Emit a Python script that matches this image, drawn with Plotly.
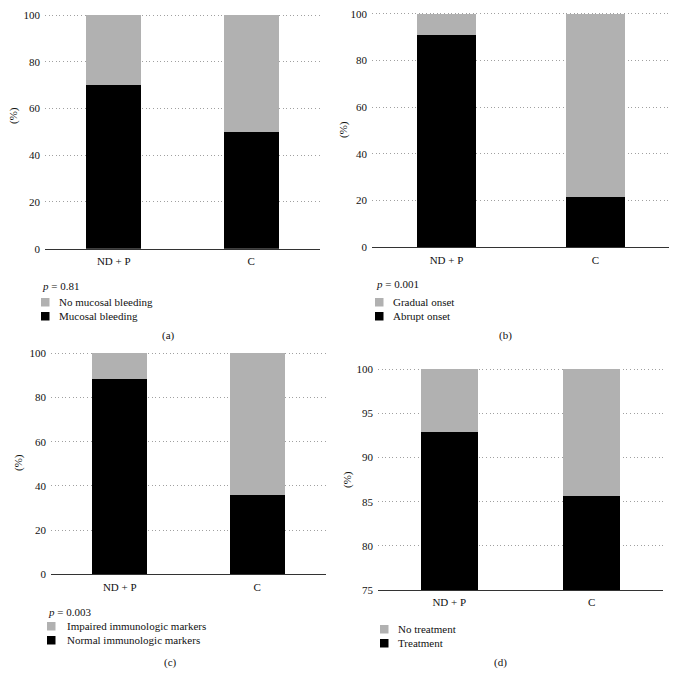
import plotly.graph_objects as go

# The page body has an 8px margin, so the figure is sized and positioned to compensate.
OFF = 8
W, H = 677 - OFF, 683 - OFF
TOP_SHIFT = 3  # nudge the top row down so the "100" labels are not clipped by the page margin

groups = ["ND + P", "C"]

# (a)
a_black_name, a_gray_name = "Mucosal bleeding", "No mucosal bleeding"
a_black = [70.0, 50.0]
a_gray = [30.0, 50.0]
a_p = "= 0.81"

# (b)
b_black_name, b_gray_name = "Abrupt onset", "Gradual onset"
b_black = [90.9, 21.4]
b_gray = [9.1, 78.6]
b_p = "= 0.001"

# (c)
c_black_name, c_gray_name = "Normal immunologic markers", "Impaired immunologic markers"
c_black = [88.2, 35.7]
c_gray = [11.8, 64.3]
c_p = "= 0.003"

# (d)
d_black_name, d_gray_name = "Treatment", "No treatment"
d_black = [92.9, 85.7]
d_gray = [7.1, 14.3]

a_ticks = [0, 20, 40, 60, 80, 100]
d_ticks = [75, 80, 85, 90, 95, 100]

BLACK = "#000000"
GRAY = "#b1b1b1"
FONT = "Liberation Serif"
FS = 11


def X(px):
    return (px - OFF) / W


def Y(py):
    return 1 - (py - OFF) / H


fig = go.Figure()

t = TOP_SHIFT
panels = [
    dict(k="", bn=a_black_name, gn=a_gray_name, bv=a_black, gv=a_gray, p=a_p,
         xd=(45, 320), yd=(12 + t, 245.7 + t), yr=[0, 100], tv=a_ticks,
         yt=(13, 113 + t), sq=41, tx=56.5, py=283 + t, r1=299 + t, r2=313 + t, cap=(168, 333 + t)),
    dict(k="2", bn=b_black_name, gn=b_gray_name, bv=b_black, gv=b_gray, p=b_p,
         xd=(372, 670), yd=(10.7 + t, 244.3 + t), yr=[0, 100], tv=a_ticks,
         yt=(343, 127 + t), sq=375, tx=391.5, py=281 + t, r1=299 + t, r2=313 + t, cap=(505, 333 + t)),
    dict(k="3", bn=c_black_name, gn=c_gray_name, bv=c_black, gv=c_gray, p=c_p,
         xd=(51, 326), yd=(353.3, 574.3), yr=[0, 100], tv=a_ticks,
         yt=(18, 463), sq=47, tx=64.5, py=611.5, r1=626, r2=640, cap=(170, 662)),
    dict(k="4", bn=d_black_name, gn=d_gray_name, bv=d_black, gv=d_gray, p=None,
         xd=(378, 663), yd=(369.3, 590), yr=[75, 100], tv=d_ticks,
         yt=(347, 480), sq=380, tx=395.5, py=None, r1=629, r2=643, cap=(500, 662)),
]

captions = ["(a)", "(b)", "(c)", "(d)"]
shapes = []
annotations = []

for i, pn in enumerate(panels):
    k = pn["k"]
    xa = "x" + k
    ya = "y" + k
    fig.add_trace(go.Bar(x=groups, y=pn["bv"], name=pn["bn"], marker=dict(color=BLACK, line=dict(width=0)),
                         width=0.4, xaxis=xa, yaxis=ya, showlegend=False))
    fig.add_trace(go.Bar(x=groups, y=pn["gv"], name=pn["gn"], marker=dict(color=GRAY, line=dict(width=0)),
                         width=0.4, xaxis=xa, yaxis=ya, showlegend=False))
    # extend the range a little above the top so the top gridline is kept, keeping it in place
    top_px, bot_px = pn["yd"]
    rmin, rmax = pn["yr"]
    ext = (rmax - rmin) * 0.01
    top_ext = top_px - ext * (bot_px - top_px) / (rmax - rmin)
    fig.update_layout(**{
        "xaxis" + k: dict(domain=[X(pn["xd"][0]), X(pn["xd"][1])], anchor=ya, range=[-0.5, 1.5],
                          showline=True, linecolor="#333333", linewidth=1, showgrid=False, ticks="",
                          tickfont=dict(family=FONT, size=FS, color="#111111"), ticklabelstandoff=2,
                          fixedrange=True, automargin=False),
        "yaxis" + k: dict(domain=[Y(bot_px), Y(top_ext)], anchor=xa, range=[rmin, rmax + ext],
                          tickvals=pn["tv"], showline=False, zeroline=False, showgrid=True,
                          gridcolor="#a0a0a0", gridwidth=1, griddash="1px,2.6px", ticks="",
                          tickfont=dict(family=FONT, size=FS, color="#111111"), ticklabelstandoff=4,
                          ticklabeloverflow="allow", fixedrange=True, automargin=False),
    })
    annotations.append(dict(x=X(pn["yt"][0]), y=Y(pn["yt"][1]), xref="paper", yref="paper",
                            text="(%)", textangle=-90, showarrow=False, xanchor="center", yanchor="middle",
                            font=dict(family=FONT, size=FS, color="#111111")))
    if pn["p"]:
        annotations.append(dict(x=X(pn["sq"] - 1.5), y=Y(pn["py"]), xref="paper", yref="paper",
                                text="<i>p</i> " + pn["p"], showarrow=False, xanchor="left", yanchor="middle",
                                font=dict(family=FONT, size=FS, color="#111111")))
    for row_y, color, name in [(pn["r1"], GRAY, pn["gn"]), (pn["r2"], BLACK, pn["bn"])]:
        shapes.append(dict(type="rect", xref="paper", yref="paper",
                           x0=X(pn["sq"]), x1=X(pn["sq"] + 8.5), y0=Y(row_y - 4), y1=Y(row_y + 4.5),
                           fillcolor=color, line=dict(width=0)))
        annotations.append(dict(x=X(pn["tx"]), y=Y(row_y), xref="paper", yref="paper",
                                text=name, showarrow=False, xanchor="left", yanchor="middle",
                                font=dict(family=FONT, size=FS, color="#111111")))
    annotations.append(dict(x=X(pn["cap"][0]), y=Y(pn["cap"][1]), xref="paper", yref="paper",
                            text=captions[i], showarrow=False, xanchor="center", yanchor="middle",
                            font=dict(family=FONT, size=FS, color="#111111")))

fig.update_layout(
    width=W, height=H,
    margin=dict(l=0, r=0, t=0, b=0),
    barmode="stack",
    paper_bgcolor="white",
    plot_bgcolor="white",
    showlegend=False,
    shapes=shapes,
    annotations=annotations,
    font=dict(family=FONT, size=FS, color="#111111"),
)

fig.write_html("out.html")
